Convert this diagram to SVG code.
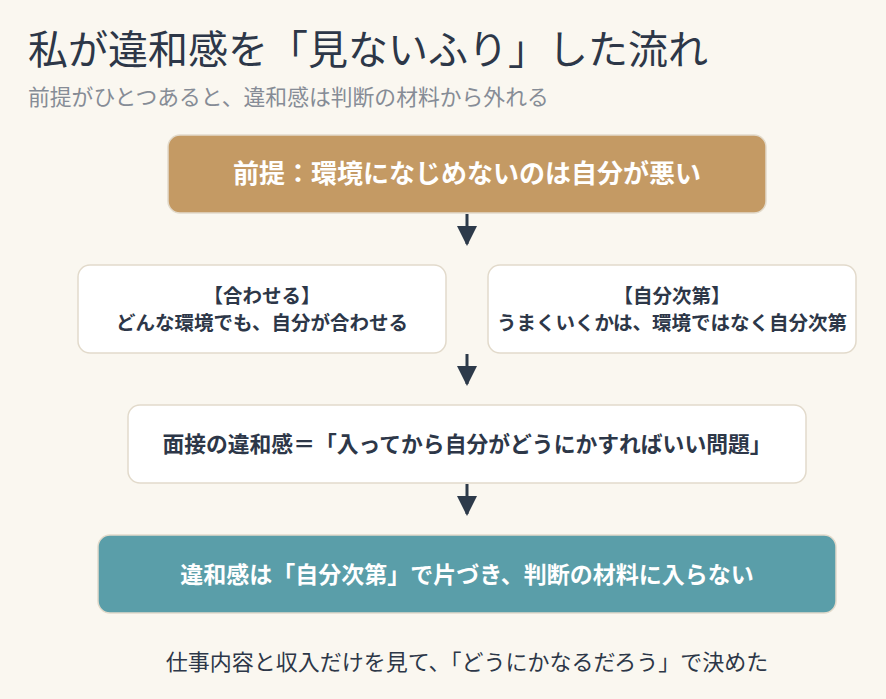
<svg xmlns="http://www.w3.org/2000/svg" width="886" height="699" viewBox="0 0 886 699">
<style>
text{font-family:"Noto Sans CJK JP","Noto Sans",sans-serif;fill:#2d3748}
.c{text-anchor:middle}
.b{font-weight:bold}
.w{fill:#fff}
.box{fill:#fff;stroke:#e2dacb;stroke-width:1.5}
</style>
<defs>
<marker id="m2" viewBox="0 0 10 10" refX="9" refY="5" markerWidth="24" markerHeight="20" markerUnits="userSpaceOnUse" orient="auto"><path d="M0,0L10,5L0,10z" fill="#2d3a4a"/></marker></defs>
<rect width="886" height="699" fill="#faf7f0"/>
<text x="28" y="64" font-size="40">私が違和感を「見ないふり」した流れ</text>
<text x="28" y="105" font-size="21.8" style="fill:#868c96">前提がひとつあると、違和感は判断の材料から外れる</text>
<g id="connectors">
<path d="M467 214V244" style="stroke:#2d3a4a;stroke-width:3" marker-end="url(#m2)"/>
<path d="M467 354V384" style="stroke:#2d3a4a;stroke-width:3" marker-end="url(#m2)"/>
<path d="M467 484V514" style="stroke:#2d3a4a;stroke-width:3" marker-end="url(#m2)"/>
</g>
<g id="n1"><rect x="168" y="135" width="598" height="78" rx="12" fill="#c49a64" stroke="#e2dacb" stroke-width="1.5"/>
<text x="467" y="183" font-size="26" class="c b w">前提：環境になじめないのは自分が悪い</text></g>
<g id="n2"><rect class="box" x="78" y="265" width="368" height="88" rx="12"/>
<text x="262" y="303" font-size="19.5" class="c b">【合わせる】</text>
<text x="262" y="330" font-size="19.5" class="c b">どんな環境でも、自分が合わせる</text></g>
<g id="n3"><rect class="box" x="488" y="265" width="368" height="88" rx="12"/>
<text x="672" y="303" font-size="19.5" class="c b">【自分次第】</text>
<text x="672" y="330" font-size="19.5" class="c b">うまくいくかは、環境ではなく自分次第</text></g>
<g id="n4"><rect class="box" x="128" y="405" width="678" height="78" rx="12"/>
<text x="467" y="452" font-size="21.8" class="c b">面接の違和感＝「入ってから自分がどうにかすればいい問題」</text></g>
<g id="n5"><rect x="98" y="535" width="738" height="78" rx="12" fill="#5a9ea9" stroke="#e2dacb" stroke-width="1.5"/>
<text x="467" y="583" font-size="23" class="c b w">違和感は「自分次第」で片づき、判断の材料に入らない</text></g>
<text x="467" y="670" font-size="22" class="c">仕事内容と収入だけを見て、「どうにかなるだろう」で決めた</text>
</svg>
